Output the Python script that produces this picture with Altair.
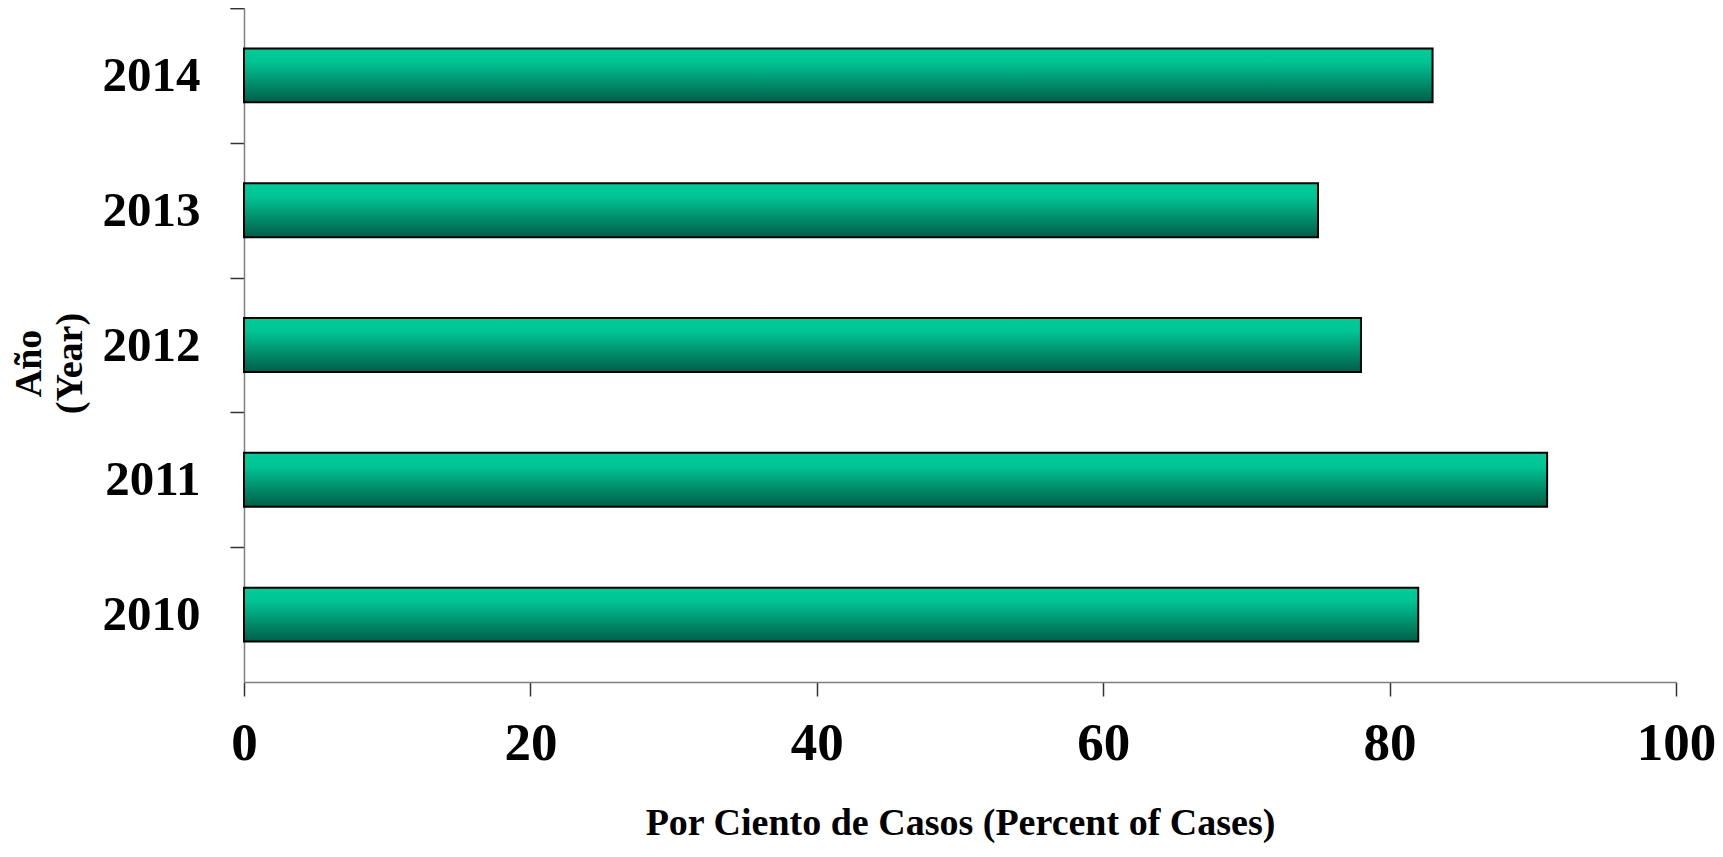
import altair as alt
import pandas as pd

years = ["2010", "2011", "2012", "2013", "2014"]
percent = [82, 91, 78, 75, 83]
x_ticks = [0, 20, 40, 60, 80, 100]

df = pd.DataFrame({"year": years, "percent": percent})

FONT = "Liberation Serif"
PLOT_H = 674
STEP = PLOT_H / 5
HALF_GAP = STEP * 0.3

gradient = alt.Gradient(
    gradient="linear",
    stops=[
        alt.GradientStop(color="#00CC99", offset=0),
        alt.GradientStop(color="#00C494", offset=0.25),
        alt.GradientStop(color="#005E47", offset=1),
    ],
    x1=0, x2=0, y1=0, y2=1,
)

chart = (
    alt.Chart(df)
    .mark_bar(color=gradient, stroke="black", strokeWidth=2)
    .encode(
        x=alt.X(
            "percent:Q",
            scale=alt.Scale(domain=[0, 100], nice=False),
            axis=alt.Axis(
                values=x_ticks,
                title="Por Ciento de Casos (Percent of Cases)",
                labelFont=FONT, labelFontSize=53, labelFontWeight="bold", labelColor="black",
                labelPadding=21, labelFlush=False,
                titleFont=FONT, titleFontSize=38, titleFontWeight="bold", titleColor="black",
                titlePadding=34,
                grid=False, tickSize=14, tickColor="#333333", tickWidth=1.5,
                domainColor="#7f7f7f", domainWidth=1.5,
            ),
        ),
        y=alt.Y(
            "year:N",
            sort=years[::-1],
            scale=alt.Scale(paddingInner=0.6, paddingOuter=0.3),
            axis=alt.Axis(
                title=["Año", "(Year)"],
                labelFont=FONT, labelFontSize=49, labelFontWeight="bold", labelColor="black",
                labelPadding=30,
                titleFont=FONT, titleFontSize=38, titleFontWeight="bold", titleColor="black",
                titleAngle=-90, titleAlign="center", titleBaseline="middle",
                titleX=-215, titleY=355, titleLineHeight=41,
                bandPosition=0, tickOffset=-HALF_GAP, labelOffset=HALF_GAP, tickExtra=True,
                grid=False, tickSize=14, tickColor="#333333", tickWidth=1.5,
                domainColor="#7f7f7f", domainWidth=1.5,
            ),
        ),
    )
    .properties(
        width=1432,
        height=PLOT_H,
        autosize=alt.AutoSizeParams(type="none"),
        padding={"left": 236, "top": 0, "right": 39, "bottom": 167},
    )
    .configure_view(stroke=None)
)

chart.save("out.html", embed_options={"renderer": "svg", "actions": False})
